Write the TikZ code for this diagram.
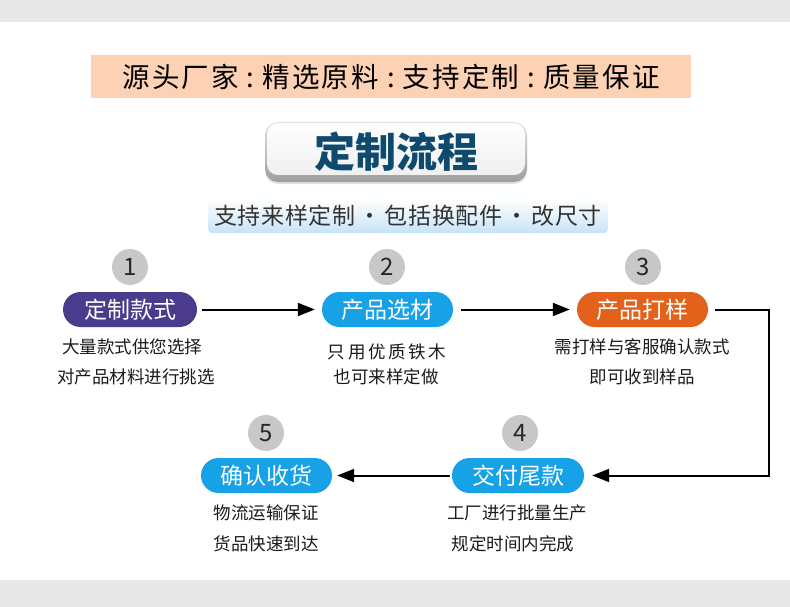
\documentclass[tikz,border=0pt]{standalone}
\usepackage{fontspec}
\setmainfont{Noto Sans CJK SC}
\usetikzlibrary{arrows.meta,shadows}
\definecolor{bandgray}{HTML}{E8E8E8}
\definecolor{peach}{HTML}{FDD2B4}
\definecolor{titleblue}{HTML}{0E4A6E}
\definecolor{subblue}{HTML}{C6E3F7}
\definecolor{numgray}{HTML}{C8C8C8}
\definecolor{purplepill}{HTML}{4A3B8C}
\definecolor{bluepill}{HTML}{17A2E8}
\definecolor{orangepill}{HTML}{E2621B}
\definecolor{desctext}{HTML}{1A1A1A}
\newcommand{\bcolon}{\hspace{8pt}:\hspace{8pt}}
\tikzset{
  pill/.style={rounded corners=17.5pt, minimum height=35pt, inner sep=0pt, text=white, font=\fontsize{23}{23}\selectfont},
  numcircle/.style={circle, fill=numgray, minimum size=36pt, inner sep=0pt, text=black!85, font=\fontsize{24}{24}\selectfont},
  desc/.style={inner sep=0pt, text=desctext, font=\fontsize{17.5}{17.5}\selectfont},
  arr/.style={line width=2pt, -{Triangle[length=17pt,width=13pt]}},
}
\begin{document}
\begin{tikzpicture}[x=1pt,y=-1pt]
\useasboundingbox (0,0) rectangle (790,607);
\fill[bandgray] (0,0) rectangle (790,22);
\fill[bandgray] (0,580) rectangle (790,607);
% banner
\node[fill=peach, minimum width=600pt, minimum height=43pt, inner sep=0pt,
      font=\fontsize{27.5}{27.5}\selectfont\addfontfeature{LetterSpace=8}] (banner) at (391,76.5) {源头厂家\bcolon 精选原料\bcolon 支持定制\bcolon 质量保证};
% title box (bevelled)
\path[rounded corners=13pt, top color=black!12, bottom color=black!38,
      drop shadow={shadow xshift=0pt, shadow yshift=-2pt, opacity=0.2, fill=black!60}]
  (265,122) rectangle (527,182);
\path[rounded corners=11pt, top color=white, bottom color=black!6]
  (267,123) rectangle (525,175);
\node[inner sep=0pt, text=titleblue, font=\fontsize{41}{41}\selectfont\bfseries] (title) at (396,152) {定制流程};
% subtitle
\node[rounded corners=4pt, minimum width=400pt, minimum height=34pt, inner sep=0pt,
      top color=white, bottom color=subblue, text=black!80,
      font=\fontsize{23}{23}\selectfont\addfontfeature{LetterSpace=3}] (sub) at (408,216) {支持来样定制\hspace{3pt}・\hspace{3pt}包括换配件\hspace{3pt}・\hspace{3pt}改尺寸};
% step 1
\node[numcircle] (n1) at (130,267) {1};
\node[pill, fill=purplepill, minimum width=134pt] (p1) at (130,309.5) {定制款式};
\node[desc] (d1a) at (132,347) {大量款式供您选择};
\node[desc] (d1b) at (136,377) {对产品材料进行挑选};
% step 2
\node[numcircle] (n2) at (387,267) {2};
\node[pill, fill=bluepill, minimum width=131pt] (p2) at (387.5,309.5) {产品选材};
\node[desc, font=\fontsize{17.5}{17.5}\selectfont\addfontfeature{LetterSpace=15}] (d2a) at (387,352) {只用优质铁木};
\node[desc] (d2b) at (386,377) {也可来样定做};
% step 3
\node[numcircle] (n3) at (643,267) {3};
\node[pill, fill=orangepill, minimum width=131pt] (p3) at (642.5,309.5) {产品打样};
\node[desc] (d3a) at (642,347) {需打样与客服确认款式};
\node[desc] (d3b) at (642,377) {即可收到样品};
% step 4
\node[numcircle] (n4) at (520,433) {4};
\node[pill, fill=bluepill, minimum width=132pt] (p4) at (518,475.5) {交付尾款};
\node[desc] (d4a) at (517,513) {工厂进行批量生产};
\node[desc] (d4b) at (513,544) {规定时间内完成};
% step 5
\node[numcircle] (n5) at (266,433) {5};
\node[pill, fill=bluepill, minimum width=131pt] (p5) at (266.5,475.5) {确认收货};
\node[desc] (d5a) at (266,513) {物流运输保证};
\node[desc] (d5b) at (266,544) {货品快速到达};
% connectors
\coordinate (turn) at (769,309.5);
\draw[arr, shorten <=5pt, shorten >=7pt] (p1.east) -- (p2.west);
\draw[arr, shorten <=8pt, shorten >=7pt] (p2.east) -- (p3.west);
\draw[arr, shorten <=7pt, shorten >=8pt] (p3.east) -- (turn) |- (p4.east);
\draw[arr, shorten <=2pt, shorten >=5pt] (p4.west) -- (p5.east);
\end{tikzpicture}
\end{document}
